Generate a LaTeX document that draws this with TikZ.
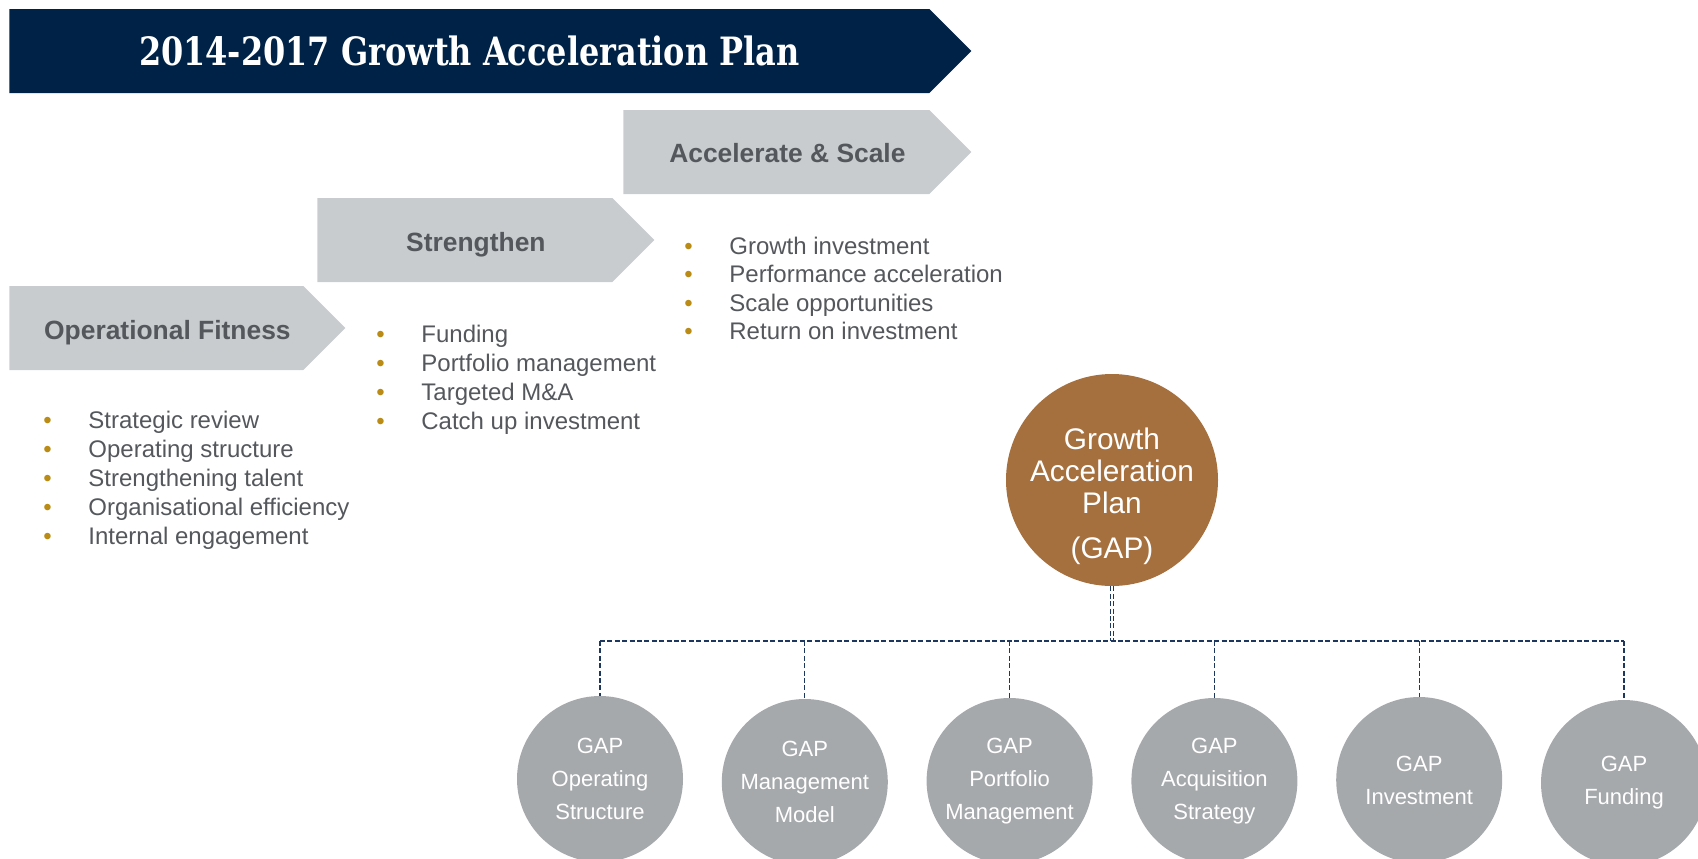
\documentclass[tikz,border=0pt]{standalone}
\usepackage{fontspec}
\setmainfont{Liberation Sans}
\newfontfamily\slabfont{DejaVu Serif Condensed}[FakeStretch=0.91]
\usepackage{xcolor}
\usetikzlibrary{positioning, shapes.symbols, calc}

\definecolor{navy}{RGB}{0,34,70}
\definecolor{chevgrey}{RGB}{201,204,207}
\definecolor{labelgrey}{RGB}{84,87,91}
\definecolor{gold}{RGB}{186,140,22}
\definecolor{gapbrown}{RGB}{166,112,62}
\definecolor{subgrey}{RGB}{166,169,172}
\definecolor{linknavy}{RGB}{30,55,95}

% gold bullet in a fixed-width box
\newcommand{\bul}{\makebox[22.5pt][l]{\textcolor{gold}{\textbullet}}}

\begin{document}
\begin{tikzpicture}[
        x=0.5pt, y=-0.5pt,
        banner/.style = {signal, signal to=east, signal pointer angle=90, fill=navy, text=white, minimum height=42pt, inner sep=0pt, font=\slabfont\bfseries\fontsize{19.5}{22}\selectfont},
        chevron/.style = {signal, signal to=east, signal pointer angle=90, fill=chevgrey, minimum height=42pt, inner sep=0pt},
        steptext/.style = {text=labelgrey, inner sep=0pt, xshift=5.5pt, font=\bfseries\fontsize{13.2}{15}\selectfont},
        item/.style = {anchor=base west, inner sep=0pt, text=labelgrey, font=\fontsize{12}{14}\selectfont},
        hub/.style = {circle, fill=gapbrown, minimum size=106pt, inner sep=0pt},
        hubtext/.style = {text=white, align=center, inner sep=0pt, font=\fontsize{14.9}{16}\selectfont},
        sub/.style = {circle, fill=subgrey, minimum size=83pt, inner sep=0pt, align=center, text=white, font=\fontsize{11}{16.5}\selectfont},
        link/.style = {linknavy, line width=0.6pt, dash pattern=on 2.5pt off 1.2pt}
    ]
    \clip (0,0) rectangle (1698,858);

    % heading arrow and the three steps
    \node[banner, anchor=west, minimum width=481pt] (title) at (9,51) {\raisebox{-1pt}{2014-2017 Growth Acceleration Plan}};
    \node[chevron, anchor=west, minimum width=168pt, label={[steptext, yshift=-2.5pt]center:Operational Fitness}] (fitness) at (9,328) {};
    \node[chevron, anchor=west, minimum width=168.5pt, label={[steptext, yshift=-2.5pt]center:Strengthen}] (strengthen) at (317,240) {};
    \node[chevron, anchor=west, minimum width=174pt, label={[steptext, yshift=-0.5pt]center:Accelerate \& Scale}] (scale) at (623,152) {};

    % bullet lists under each step
    \foreach \txt [count=\i] in {Strategic review, Operating structure, Strengthening talent, Organisational efficiency, Internal engagement}
        \node[item] (fit-\i) at (43, 428+29.2*\i-29.2) {\bul\txt};
    \foreach \txt [count=\i] in {Funding, Portfolio management, Targeted M\&A, Catch up investment}
        \node[item] (str-\i) at (376, 342+29*\i-29) {\bul\txt};
    \foreach \txt [count=\i] in {Growth investment, Performance acceleration, Scale opportunities, Return on investment}
        \node[item] (acc-\i) at (684, 254+28.6*\i-28.6) {\bul\txt};

    % GAP hub
    \node[hub] (gap) at (1112,480) {};
    \node[hubtext] (gaplabel) at ([yshift=-8.2pt]gap.center) {Growth\\Acceleration\\Plan\\[6.5pt](GAP)};

    % workstreams
    \node[sub] (sub1) at (600,779) {GAP\\Operating\\Structure};
    \node[sub, right=19pt of sub1, yshift=-1.5pt] (sub2) {GAP\\Management\\Model};
    \node[sub, right=19pt of sub2, yshift=0.5pt] (sub3) {GAP\\Portfolio\\Management};
    \node[sub, right=19pt of sub3] (sub4) {GAP\\Acquisition\\Strategy};
    \node[sub, right=19pt of sub4, yshift=0.5pt] (sub5) {GAP\\Investment};
    \node[sub, right=19pt of sub5, yshift=-1.5pt] (sub6) {GAP\\Funding};

    % dashed tree
    \coordinate (bus) at (1112,641);
    \draw[link, double, double distance=0.7pt] (gap.south) -- (bus);
    \draw[link] (sub1.north |- bus) -- (sub6.north |- bus);
    \foreach \i in {1,...,6}
        \draw[link] (sub\i.north |- bus) -- (sub\i.north);
\end{tikzpicture}
\end{document}
